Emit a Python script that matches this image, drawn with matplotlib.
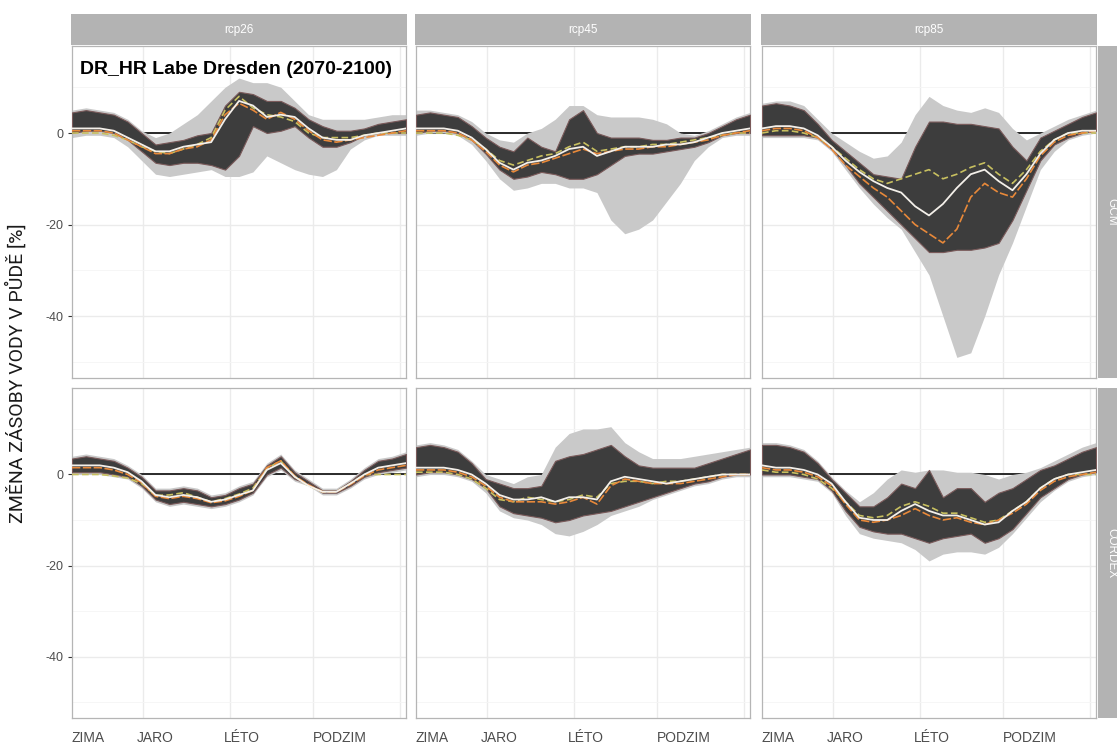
import matplotlib.pyplot as plt

plt.rcParams['font.family'] = ['Liberation Sans', 'DejaVu Sans']
plt.rcParams['axes.unicode_minus'] = False

# day of year, sampled every 15 days
days = list(range(0, 361, 15))

scenarios = ['rcp26', 'rcp45', 'rcp85']
sources = ['GCM', 'CORDEX']
season_labels = ['ZIMA', 'JARO', 'LÉTO', 'PODZIM']
season_pos = [17, 89.5, 183, 289]
grid_pos = [76.5, 170.3, 259.8, 353.6]
y_ticks = [0, -20, -40]

# ---- GCM, rcp26
g26_light_hi = [5, 5.5, 5, 4.5, 3, 0.5, -1, 0, 2, 4, 7, 10, 12, 11, 11, 10, 7, 4, 3, 3, 3, 3, 3.5, 4, 4]
g26_dark_hi = [4.5, 5, 4.5, 4, 2.5, 0, -2.5, -2, -1.5, -0.5, 0, 6, 9, 8.5, 7, 7, 5.5, 3, 1.5, 0.5, 0.5, 1, 2, 2.5, 3]
g26_dark_lo = [0, 0.5, 0.5, 0, -1.5, -4, -6.5, -7, -6.5, -6.5, -7, -8, -5, 1.5, 0, 0.5, 1.5, -1, -3, -3, -2, -0.5, 0, 0, 0]
g26_light_lo = [-1, -0.5, -0.5, -1, -3, -6, -9, -9.5, -9, -8.5, -8, -9.5, -9.5, -8.5, -5, -6.5, -8, -9, -9.5, -8, -3.5, -1.5, -0.5, -0.5, -0.5]
g26_white = [1, 1, 1, 0.5, -1, -2.5, -4, -4, -3, -2.5, -2, 3, 7, 6, 3.5, 4, 3.5, 1, -1, -1.5, -1.5, -0.5, 0, 0.5, 1]
g26_orange = [0.5, 0.5, 0.5, 0, -1.5, -3, -4.5, -4.5, -3.5, -3, -1.5, 4, 6.5, 5, 3, 4.5, 3, 0.5, -1.5, -2, -1.5, -1, -0.5, 0, 0.5]
g26_olive = [0, 0, 0, -0.5, -1.5, -3, -4, -4.5, -3.5, -2.5, -1, 5, 8, 5.5, 4, 3.5, 2.5, 0, -1, -1, -1, -0.5, 0, 0, 0]

# ---- GCM, rcp45
g45_light_hi = [5, 5, 4.5, 4, 2.5, 0, -1.5, -2, 0, 1, 3, 6, 6, 4, 3.5, 3.5, 3.5, 3, 2, 0, -0.5, 0.5, 2, 3.5, 4.5]
g45_dark_hi = [4, 4.5, 4, 3.5, 1.5, -1, -3, -4, -1, -3, -4, 3, 5, 0, -1, -1, -1, -1.5, -1.5, -1, -1, 0, 1.5, 3, 4]
g45_dark_lo = [0, 0.5, 0.5, 0, -1.5, -4.5, -8, -10, -9.5, -8.5, -9, -10, -10, -9, -7, -5, -4.5, -4.5, -4, -3.5, -3, -2, -0.5, 0, 0]
g45_light_lo = [-0.5, 0, 0, -0.5, -2.5, -6, -10, -12.5, -12, -11, -11, -12, -12, -13, -19, -22, -21, -19, -15, -11, -6, -3, -1, -0.5, -0.5]
g45_white = [1, 1, 1, 0.5, -1, -3.5, -6.5, -8, -6.5, -6, -5, -3.5, -3, -5, -4, -3, -3, -3, -2.5, -2.5, -2, -1, 0, 0.5, 1]
g45_orange = [0.5, 0.5, 0.5, 0, -1.5, -4, -7, -8.5, -7, -6.5, -5.5, -4.5, -3.5, -4.5, -4, -3.5, -3.5, -3, -3, -2.5, -2, -1.5, -0.5, 0, 0.5]
g45_olive = [0, 0, 0, -0.5, -1.5, -3.5, -6, -7, -6, -5, -4.5, -3, -2, -4, -3.5, -3, -3, -2.5, -2.5, -2, -1.5, -1, -0.5, 0, 0]

# ---- GCM, rcp85
g85_light_hi = [6.5, 7, 7, 6, 3, 0, -2, -4, -5.5, -5, -2, 4, 8, 6, 5, 4.5, 5.5, 4.5, 1, -1.5, 0, 1.5, 3, 4, 5]
g85_dark_hi = [6, 6.5, 6, 5, 2, -1.5, -4, -6.5, -9, -9.5, -10, -3, 2.5, 2.5, 2, 2, 1.5, 1, -3, -6, -1, 0.5, 2, 3.5, 4.5]
g85_dark_lo = [-0.5, -0.5, -0.5, -0.5, -1, -3.5, -7, -11, -14, -17, -20, -23, -26, -26, -25.5, -25.5, -25, -24, -19, -12.5, -6, -2.5, -1, 0, 0.5]
g85_light_lo = [-1, -1, -1, -1, -1.5, -4, -8, -12, -15.5, -18.5, -21, -26, -31, -40, -49, -48, -40, -31, -24, -16, -8, -4, -1.5, -0.5, 0]
g85_white = [1, 1.5, 1.5, 1, -0.5, -3, -6, -8.5, -10.5, -12, -13, -16, -18, -15.5, -12, -9, -8, -10.5, -12.5, -9, -4.5, -1.5, 0, 0.5, 0.5]
g85_orange = [0.5, 1, 1, 0.5, -1, -3.5, -7, -9.5, -12, -14, -17, -20, -22, -24, -21, -14, -11, -13, -14, -10, -5, -2, -0.5, 0, 0.5]
g85_olive = [0, 0.5, 0.5, 0, -1, -3, -5.5, -8, -10, -11, -10, -9, -8, -10, -9, -7.5, -6.5, -9, -11, -8, -4, -1.5, 0, 0, 0]

# ---- CORDEX, rcp26
c26_light_hi = [4, 4.5, 4, 3.5, 2, 0, -3, -3, -2.5, -3, -4.5, -4, -2.5, -1.5, 2.5, 4.5, 1, -1, -3, -3, -1, 1.5, 3.5, 4, 5]
c26_dark_hi = [3.5, 4, 3.5, 3, 1.5, -0.5, -3.5, -3.5, -3, -3.5, -5, -4.5, -3, -2, 2, 4, 0.5, -1.5, -3.5, -3.5, -1.5, 1, 3, 3.5, 4.5]
c26_dark_lo = [0.5, 0.5, 0.5, 0, -0.5, -2.5, -5.5, -6.5, -6, -6.5, -7, -6.5, -5.5, -4, 0, 1.5, -1, -2, -4, -4, -2.5, -0.5, 0.5, 1, 1.5]
c26_light_lo = [0, 0, 0, -0.5, -1, -3, -6, -7, -6.5, -7, -7.5, -7, -6, -4.5, -0.5, 1, -1.5, -2.5, -4.5, -4.5, -3, -1, 0, 0.5, 1]
c26_white = [2, 2, 2, 1.5, 0.5, -1.5, -4.5, -5, -4.5, -5, -6, -5.5, -4.5, -3.5, 1, 2.5, -0.5, -2.5, -3.8, -3.8, -2, 0, 1.5, 2, 2.5]
c26_orange = [1.5, 1.5, 1.5, 1, 0, -1.8, -4.8, -5.3, -4.8, -5.3, -6.2, -5.8, -4.8, -3.5, 1.5, 3, -0.3, -2.3, -3.8, -3.8, -2.2, -0.3, 1, 1.5, 2]
c26_olive = [0, 0, 0, -0.3, -0.8, -2, -4.6, -4.5, -4, -5, -6, -5.3, -4.3, -3, 1.3, 3, -0.5, -2.5, -3.8, -3.8, -2, 0, 0, 0, 0]

# ---- CORDEX, rcp45
c45_light_hi = [6.5, 7, 6.5, 5.5, 3, 0, -1, -2, -0.5, 0, 6, 9, 10, 10, 10.5, 7, 5, 3.5, 3.5, 3.5, 4, 4.5, 5, 5.5, 6]
c45_dark_hi = [6, 6.5, 6, 5, 2.5, -1, -2, -3, -3, -2.5, 3, 4, 4.5, 5.5, 6.5, 4, 2, 1.5, 1.5, 1.5, 1.5, 2.5, 3.5, 4.5, 5.5]
c45_dark_lo = [0, 0.5, 0.5, 0, -1, -3, -7, -8.5, -9, -9.5, -10.5, -10, -9, -8.5, -8, -7, -6, -5, -4, -3, -2, -1.5, -0.5, 0, 0]
c45_light_lo = [-0.5, 0, 0, -0.5, -1.5, -4, -8, -9.5, -10, -11, -13, -13.5, -12.5, -11, -9, -8, -7, -5.5, -4.5, -3.5, -2.5, -2, -1, -0.5, -0.5]
c45_white = [1.5, 1.5, 1.5, 1, 0, -2, -4.5, -5.5, -5.5, -5, -6, -5, -5, -5.5, -1.5, -0.5, -1, -1.5, -2, -1.5, -1, -0.5, 0, 0, 0]
c45_orange = [1, 1, 1, 0.5, -0.5, -2.5, -5, -6, -6, -6, -6.5, -6, -5, -6.5, -2.5, -1, -1.5, -2, -2, -2, -1.5, -1, -0.5, 0, 0]
c45_olive = [0.5, 0.5, 0.5, 0, -1, -3, -5.5, -6, -5, -5.5, -6, -5.5, -4.5, -5, -2, -1.5, -1.5, -2, -1.5, -1.5, -1, -0.5, 0, 0, 0]

# ---- CORDEX, rcp85
c85_light_hi = [7, 7, 6.5, 5.5, 3, -0.5, -3.5, -6, -4, -1, 1, 0.5, 1, 1, 0.5, 0.5, 0, -1, 0, 0.5, 1.5, 3, 4.5, 6, 7]
c85_dark_hi = [6.5, 6.5, 6, 5, 2.5, -1, -4, -7, -7, -5, -2, -3, 1, -5, -3, -3, -6, -4, -3, -1, 1, 2, 3.5, 5, 6]
c85_dark_lo = [0, 0, 0, -0.5, -1, -3.5, -8, -11.5, -12.5, -13, -13, -14, -15, -14, -13.5, -13, -15, -14, -12, -8.5, -5, -3, -1, 0, 0.5]
c85_light_lo = [-0.5, -0.5, -0.5, -1, -1.5, -4, -9, -13, -14, -14.5, -15, -16.5, -19, -17.5, -17, -17, -17.5, -16, -13, -9.5, -6, -3.5, -1.5, -0.5, 0]
c85_white = [2, 1.5, 1.5, 1, 0, -2, -6, -9.5, -10, -10, -8, -6.5, -8, -9, -9, -10, -11, -10.5, -8, -6, -3, -1, 0, 0.5, 1]
c85_orange = [1.5, 1, 1, 0.5, -0.5, -2.5, -6.5, -10, -10.5, -10, -9, -7.5, -9, -10, -9.5, -10.5, -11, -10, -8.5, -6.5, -3.5, -1.5, -0.5, 0, 0.5]
c85_olive = [1, 0.5, 0.5, 0, -1, -3, -6, -9, -9.5, -9, -7, -6, -7, -8.5, -8.5, -9.5, -10.5, -10, -8, -6, -3, -1, 0, 0, 0]

panels = {
    ('GCM', 'rcp26'): (g26_light_lo, g26_light_hi, g26_dark_lo, g26_dark_hi, g26_white, g26_orange, g26_olive),
    ('GCM', 'rcp45'): (g45_light_lo, g45_light_hi, g45_dark_lo, g45_dark_hi, g45_white, g45_orange, g45_olive),
    ('GCM', 'rcp85'): (g85_light_lo, g85_light_hi, g85_dark_lo, g85_dark_hi, g85_white, g85_orange, g85_olive),
    ('CORDEX', 'rcp26'): (c26_light_lo, c26_light_hi, c26_dark_lo, c26_dark_hi, c26_white, c26_orange, c26_olive),
    ('CORDEX', 'rcp45'): (c45_light_lo, c45_light_hi, c45_dark_lo, c45_dark_hi, c45_white, c45_orange, c45_olive),
    ('CORDEX', 'rcp85'): (c85_light_lo, c85_light_hi, c85_dark_lo, c85_dark_hi, c85_white, c85_orange, c85_olive),
}

W, H = 1117, 747
fig = plt.figure(figsize=(W / 100, H / 100), dpi=100)

col_left = [72, 416, 762]
panel_w = 334
row_top = [46, 388]
panel_h = [332, 330]
strip_col = '#B3B3B3'

for r, src in enumerate(sources):
    for c, scen in enumerate(scenarios):
        ax = fig.add_axes([col_left[c] / W, 1 - (row_top[r] + panel_h[r]) / H,
                           panel_w / W, panel_h[r] / H])
        light_lo, light_hi, dark_lo, dark_hi, white, orange, olive = panels[(src, scen)]

        ax.axhline(0, color='#1a1a1a', lw=1.3, zorder=1)
        ax.fill_between(days, light_lo, light_hi, color='#C9C9C9', lw=0, zorder=2)
        ax.fill_between(days, dark_lo, dark_hi, facecolor='#3D3D3D',
                        edgecolor='#7a5a5a', lw=0.8, zorder=3)
        ax.plot(days, olive, color='#C8C060', lw=1.2, ls=(0, (4, 2)), zorder=4)
        ax.plot(days, orange, color='#E8893A', lw=1.2, ls=(0, (5, 1.5)), zorder=5)
        ax.plot(days, white, color='#F4F0EA', lw=1.3, zorder=6)

        ax.set_xlim(0, 360)
        ax.set_ylim(-53.5, 19)
        ax.set_yticks(y_ticks)
        ax.set_yticks([10, -10, -30, -50], minor=True)
        ax.set_xticks(season_pos)
        ax.set_xticks(grid_pos, minor=True)
        ax.grid(False)
        ax.grid(True, axis='x', which='minor', color='#EBEBEB', lw=1.0, zorder=0)
        ax.grid(True, axis='y', which='major', color='#EBEBEB', lw=1.0, zorder=0)
        ax.grid(True, axis='y', which='minor', color='#F5F5F5', lw=0.6, zorder=0)
        ax.set_axisbelow(True)
        ax.tick_params(axis='x', which='both', length=0, labelsize=10, labelcolor='#4D4D4D', pad=9)
        ax.tick_params(axis='y', which='major', length=3 if c == 0 else 0, color='#333333',
                       labelsize=9, labelcolor='#4D4D4D', pad=3)
        ax.tick_params(axis='y', which='minor', length=0)
        for sp in ax.spines.values():
            sp.set_color('#B5B5B5')
            sp.set_linewidth(0.9)

        if r == len(sources) - 1:
            ax.set_xticklabels(season_labels)
        else:
            ax.set_xticklabels([])
        if c == 0:
            ax.set_yticklabels([str(v) for v in y_ticks])
        else:
            ax.set_yticklabels([])

        # top strip
        if r == 0:
            sax = fig.add_axes([(col_left[c] - 1) / W, 1 - 45 / H, (panel_w + 2) / W, 31 / H])
            sax.set_facecolor(strip_col)
            sax.set_xticks([])
            sax.set_yticks([])
            for sp in sax.spines.values():
                sp.set_visible(False)
            sax.text(0.5, 0.5, scen, color='white', fontsize=8.5, ha='center', va='center',
                     transform=sax.transAxes)
        # right strip
        if c == len(scenarios) - 1:
            sax = fig.add_axes([1098 / W, 1 - (row_top[r] + panel_h[r]) / H, 24 / W, panel_h[r] / H])
            sax.set_facecolor(strip_col)
            sax.set_xticks([])
            sax.set_yticks([])
            for sp in sax.spines.values():
                sp.set_visible(False)
            sax.text(0.55, 0.5, src, color='white', fontsize=8.5, ha='center', va='center',
                     rotation=270, transform=sax.transAxes)

        if r == 0 and c == 0:
            ax.text(0.025, 0.955, 'DR_HR Labe Dresden (2070-2100)', transform=ax.transAxes,
                    fontsize=14, fontweight='bold', color='black', ha='left', va='top')

fig.text(16 / W, 0.5, 'ZM\u011aNA Z\u00c1SOBY VODY V P\u016eD\u011a [%]', rotation=90,
         ha='center', va='center', fontsize=14, color='#1a1a1a',
         family=['Roboto', 'DejaVu Sans'])

fig.savefig('out.png', dpi=100)
